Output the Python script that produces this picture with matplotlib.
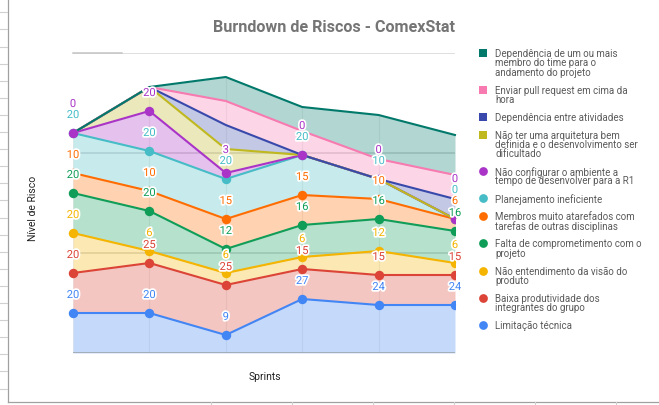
import matplotlib
matplotlib.use('Agg')
import matplotlib.pyplot as plt
import numpy as np
import matplotlib.patheffects as pe
from matplotlib.patches import Rectangle

plt.rcParams['font.family'] = ['Roboto', 'DejaVu Sans']

# ---------------- data ----------------
sprints = ['Sprint 1', 'Sprint 2', 'Sprint 3', 'Sprint 4', 'Sprint 5', 'Sprint 6']

# series listed bottom -> top of the stack
series_names = [
    'Limitação técnica',
    'Baixa produtividade dos\nintegrantes do grupo',
    'Não entendimento da visão do\nproduto',
    'Falta de comprometimento com o\nprojeto',
    'Membros muito atarefados com\ntarefas de outras disciplinas',
    'Planejamento ineficiente',
    'Não configurar o ambiente a\ntempo de desenvolver para a R1',
    'Não ter uma arquitetura bem\ndefinida e o desenvolvimento ser\ndificultado',
    'Dependência entre atividades',
    'Enviar pull request em cima da\nhora',
    'Dependência de um ou mais\nmembro do time para o\nandamento do projeto',
]
limitacao_tecnica = [20, 20, 9, 27, 24, 24]
baixa_produtividade = [20, 25, 25, 15, 15, 15]
nao_entendimento = [20, 6, 6, 6, 12, 6]
falta_comprometimento = [20, 20, 12, 16, 16, 16]
membros_atarefados = [10, 10, 15, 15, 10, 6]
planejamento_ineficiente = [20, 20, 20, 20, 10, 0]
nao_configurar_ambiente = [0, 20, 3, 0, 0, 0]
nao_ter_arquitetura = [0, 12, 12, 0, 0, 0]
dependencia_atividades = [0, 0, 12, 0, 0, 10]
pull_request_hora = [0, 0, 12, 12, 10, 12]
dependencia_membro = [0, 0, 12, 12, 22, 20]

series_values = [limitacao_tecnica, baixa_produtividade, nao_entendimento,
                 falta_comprometimento, membros_atarefados, planejamento_ineficiente,
                 nao_configurar_ambiente, nao_ter_arquitetura, dependencia_atividades,
                 pull_request_hora, dependencia_membro]
colors = ['#4285F4', '#DB4437', '#F4B400', '#0F9D58', '#FF6D01', '#46BDC6',
          '#A934C7', '#BFB81F', '#3949AB', '#F77AB0', '#00796B']
n_pointed = 7  # bottom series drawn with points and data labels

title = 'Burndown de Riscos - ComexStat'
x_title = 'Sprints'
y_title = 'Nível de Risco'

# ---------------- figure ----------------
W, H = 659, 406
fig = plt.figure(figsize=(W / 100, H / 100), dpi=100)
fig.patch.set_facecolor('white')

ax = fig.add_axes([73 / W, 52 / H, 382 / W, 300 / H])
x = np.arange(len(sprints))
ax.set_xlim(0, len(sprints) - 1)
ax.set_ylim(0, 150)
ax.axis('off')

for g in (50, 100, 150):
    ax.axhline(g, color='#d6d6d6', lw=1.1, zorder=0.5)

vals = np.array(series_values, dtype=float)
cum = np.cumsum(vals, axis=0)
prev = np.zeros(len(sprints))
for i, c in enumerate(colors):
    ax.fill_between(x, prev, cum[i], color=c, alpha=0.3, lw=0, zorder=1)
    prev = cum[i]

# segment seams
for xi in x:
    ax.plot([xi, xi], [0, cum[-1][xi]], color='black', alpha=0.05, lw=0.8, zorder=1.5)

ax.axhline(0, color='#9aa0a6', lw=1.8, zorder=6)

clip = Rectangle((-0.05, -0.05), 1.05, 1.1, transform=ax.transAxes)
for i, c in enumerate(colors):
    ax.plot(x, cum[i], color=c, lw=1.5, zorder=2 + i * 0.01, clip_on=False,
            solid_joinstyle='round')
for i in range(n_pointed):
    ln, = ax.plot(x, cum[i], 'o', ms=6.8, color=colors[i], zorder=3, mew=0)
    ln.set_clip_path(clip)

# data labels with simple collision avoidance
for j in x:
    last = -1e9
    for i in range(n_pointed):
        ly = cum[i][j] + 9
        if ly < last + 5.5:
            ly = last + 5.5
        last = ly
        ax.text(j, ly, f'{int(vals[i][j])}', ha='center', va='center', fontsize=8,
                color=colors[i], zorder=7, clip_on=False,
                path_effects=[pe.withStroke(linewidth=2.5, foreground='white')])

# ---------------- overlay in pixel coords ----------------
lax = fig.add_axes([0, 0, 1, 1])
lax.set_xlim(0, W)
lax.set_ylim(H, 0)
lax.axis('off')
lax.patch.set_visible(False)

# spreadsheet background decorations
lax.plot([7.5, 7.5], [0, 402.5], color='#a0a0a0', lw=0.9)
lax.plot([7.5, W], [402.5, 402.5], color='#a0a0a0', lw=0.9)
for k in range(23):
    yy = 13.3 + 17.1 * k
    lax.plot([0, 7], [yy, yy], color='#d0d0d0', lw=0.8)
for xx in (211, 292, 373, 454, 535, 616):
    lax.plot([xx, xx], [403, 406], color='#d0d0d0', lw=0.8)
lax.plot([73, 122], [54, 54], color='#c4c4c4', lw=1.1)

# titles
lax.text(334, 27, title, ha='center', va='center', fontsize=11.6, fontweight='bold',
         color='#757575')
lax.text(265, 377, x_title, ha='center', va='center', fontsize=7.5, color='#222222')
lax.text(33, 208, y_title, ha='center', va='center', fontsize=7.5, color='#222222',
         rotation=90)

# legend (top of stack first)
ly = 54.0
line_h, gap = 9.3, 8.6
for i in reversed(range(len(series_names))):
    lines = series_names[i].split('\n')
    marker = 'o' if i < n_pointed else 's'
    lax.plot([483], [ly], marker=marker, ms=6.3 if marker == 'o' else 6.0,
             color=colors[i], mew=0)
    for k, t in enumerate(lines):
        lax.text(495, ly + k * line_h, t, ha='left', va='center', fontsize=7.0,
                 color='#5a5a5a')
    ly += len(lines) * line_h + gap

fig.savefig('out.png', dpi=100, facecolor='white')
